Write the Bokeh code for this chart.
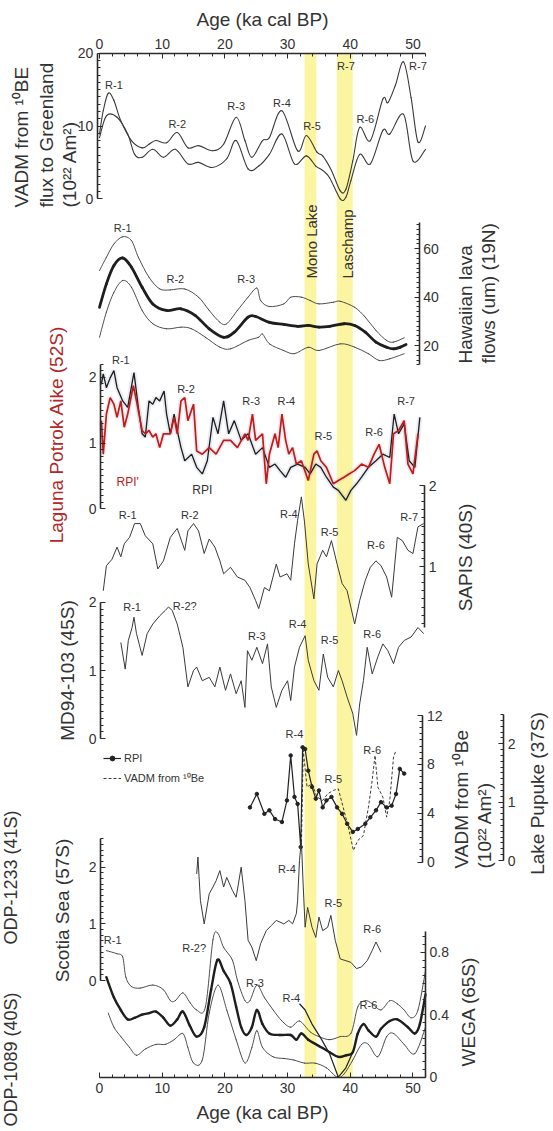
import math
from bokeh.plotting import figure
from bokeh.models import (Range1d, LinearAxis, SingleIntervalTicker, BoxAnnotation,
                          Label, Legend, LegendItem, ColumnDataSource)
from bokeh.core.properties import value
from bokeh.embed import file_html
from bokeh.resources import INLINE

FONT = "Liberation Sans"

# ---------------------------------------------------------------- data
# geomagnetic excursions (ka cal BP)
excursions = ["Mono Lake", "Laschamp"]
exc_start = [32.7, 37.85]
exc_end = [34.6, 40.4]
exc_label_age = [33.8, 39.6]

# VADM from 10Be flux to Greenland, upper / lower envelope (10^22 Am^2)
gl_hi_age = [0, 0.6, 1.4, 2.3, 3.4, 5.1, 6.8, 7.9, 9.0, 10.7, 12.4, 14.1, 15.8, 18.0, 19.8,
             21.8, 23.2, 24.3, 26.0, 27.1, 29.1, 31.6, 33.0, 34.7, 35.6, 37.0, 38.4, 39.3,
             40.4, 41.5, 43.2, 45.2, 46.0, 47.2, 48.5, 49.7, 50.8, 52.0]
gl_hi = [8.9, 12.1, 14.5, 13.5, 10.7, 8.0, 7.0, 7.5, 8.0, 7.7, 9.1, 7.0, 7.3, 6.6, 7.5,
         11.2, 8.0, 5.7, 8.0, 8.4, 12.1, 6.6, 8.7, 6.4, 5.9, 3.9, 1.1, 1.3,
         5.2, 9.8, 8.0, 13.7, 13.2, 15.6, 18.8, 13.9, 7.8, 10.0]
gl_lo_age = [0, 1.1, 2.8, 4.5, 5.6, 6.8, 8.5, 10.2, 12.1, 14.1, 15.8, 18.0, 20.3, 21.8,
             23.7, 25.4, 27.1, 29.1, 31.1, 33.0, 34.5, 35.6, 36.7, 38.4, 39.3, 40.1, 41.5,
             43.2, 45.2, 46.3, 48.5, 50.0, 52.0]
gl_lo = [8.4, 11.4, 11.2, 8.9, 6.1, 5.7, 6.8, 5.7, 6.8, 4.8, 5.0, 4.3, 5.5, 8.0,
         4.1, 4.5, 6.1, 8.9, 4.8, 5.9, 4.5, 3.9, 2.9, 0.0, 0.2, 2.5, 6.1,
         4.8, 9.4, 8.9, 11.6, 5.2, 6.8]
gl_r_age = [2.3, 12.4, 21.8, 29.1, 33.9, 39.3, 42.4, 50.8]
gl_r_val = [15.6, 10.3, 12.7, 13.2, 10.0, 18.3, 11.0, 18.3]
gl_r_txt = ["R-1", "R-2", "R-3", "R-4", "R-5", "R-7", "R-6", "R-7"]

# Hawaiian lava flows (uT): mean and envelope
hw_age = [0, 1.1, 2.3, 3.7, 5.1, 6.8, 8.5, 10.7, 13.0, 15.3, 17.5, 19.8, 21.5, 23.7, 24.9,
          27.1, 29.4, 31.6, 33.3, 35.0, 36.7, 39.0, 40.7, 42.4, 44.1, 45.8, 46.9, 48.0, 48.9]
hw_mid = [35.8, 45.5, 53.1, 56.2, 52.4, 44.1, 37.2, 34.5, 35.2, 32.4, 26.9, 23.4, 25.5, 31.7, 32.0,
          29.6, 28.7, 27.9, 28.3, 27.6, 27.9, 29.0, 28.3, 25.5, 21.4, 19.3, 18.6, 19.3, 20.4]
hw_hi_age = [0, 1.1, 2.3, 3.7, 5.1, 6.2, 7.9, 9.6, 11.3, 13.6, 15.8, 17.5, 19.2, 20.3, 22.0,
             23.7, 25.1, 25.7, 27.1, 29.4, 30.5, 32.2, 33.6, 35.0, 37.3, 38.4, 40.7, 42.4,
             44.1, 45.8, 46.9, 48.6]
hw_hi = [51.0, 56.5, 62.0, 65.0, 63.4, 56.5, 48.2, 43.4, 43.0, 43.4, 40.0, 34.5, 29.6, 29.0, 34.5,
         40.0, 43.8, 38.6, 36.1, 37.2, 40.0, 40.0, 38.6, 37.2, 37.9, 38.3, 35.8, 31.7,
         26.2, 22.1, 21.4, 23.2]
hw_lo_age = [0, 1.1, 2.3, 3.7, 5.1, 6.8, 8.5, 10.7, 13.0, 14.7, 16.9, 19.2, 20.9, 23.7, 25.4,
             26.0, 27.1, 29.4, 31.1, 33.3, 35.0, 38.4, 40.7, 42.9, 44.6, 46.3, 48.6]
hw_lo = [23.4, 33.8, 42.0, 46.9, 44.1, 34.5, 29.0, 26.9, 27.6, 26.9, 23.4, 19.3, 18.6, 22.1, 23.4,
         24.8, 20.7, 17.9, 16.6, 19.3, 17.9, 20.7, 19.3, 16.6, 13.8, 14.5, 16.6]
hw_r_age = [3.7, 12.1, 23.4]
hw_r_val = [68.6, 47.5, 47.5]
hw_r_txt = ["R-1", "R-2", "R-3"]

# Laguna Potrok Aike (52S): RPI' (red) and RPI (black)
lg_red_age = [0.3, 0.6, 1.1, 1.7, 2.3, 2.8, 3.4, 3.95, 4.5, 5.4, 5.9, 6.8, 7.3, 7.9, 8.5, 9.0,
              9.6, 10.2, 11.3, 11.9, 12.4, 13.0, 13.6, 14.1, 15.0, 15.5, 16.4, 17.5, 18.6, 19.8,
              20.9, 22.0, 23.2, 23.7, 24.4, 24.9, 26.0, 26.6, 27.1, 28.0, 28.5, 29.1, 29.7,
              30.2, 30.8, 31.4, 32.2, 33.3, 34.2, 34.7, 35.3, 36.2, 37.3, 38.1, 39.0, 39.8,
              40.7, 41.8, 42.9, 43.8, 44.6, 45.5, 46.3, 46.9, 47.7, 48.6, 49.2, 50.0, 50.8]
lg_red = [1.34, 0.83, 1.44, 1.69, 1.59, 1.39, 1.64, 1.24, 1.44, 1.87, 1.64, 1.19, 1.14, 1.19, 1.09,
          1.14, 0.93, 1.14, 1.14, 1.39, 1.14, 1.64, 1.69, 1.34, 1.59, 0.88, 0.83, 0.93, 0.83, 1.04,
          1.04, 0.93, 1.14, 1.04, 1.44, 1.04, 1.14, 0.38, 0.83, 1.14, 0.93, 1.44, 1.04,
          0.83, 0.93, 0.68, 0.73, 0.43, 0.83, 0.88, 0.73, 0.63, 0.38, 0.43, 0.48, 0.53,
          0.58, 0.68, 0.63, 0.83, 0.98, 0.63, 0.38, 1.14, 1.19, 1.34, 0.68, 0.53, 1.14]
lg_blk_age = [0.3, 0.6, 1.1, 1.7, 2.3, 2.8, 3.7, 4.5, 5.5, 6.2, 6.8, 7.3, 7.9, 8.5, 9.0, 9.6,
              10.3, 10.7, 11.3, 11.9, 12.4, 13.0, 13.6, 14.7, 15.5, 16.4, 17.2, 18.1, 18.9,
              19.8, 20.6, 21.5, 22.6, 23.7, 24.9, 26.0, 27.1, 28.0, 28.8, 29.7, 30.5, 31.6,
              32.8, 33.6, 34.5, 35.3, 36.2, 37.3, 38.1, 39.3, 40.1, 41.0, 41.8, 42.9, 44.1,
              45.2, 46.3, 47.0, 47.7, 48.6, 49.4, 50.3, 51.1]
lg_blk = [1.89, 2.05, 1.84, 1.99, 2.10, 1.84, 1.64, 1.54, 2.07, 1.54, 1.14, 1.09, 1.64, 1.59, 1.69,
          1.64, 1.79, 1.44, 1.14, 1.44, 1.19, 0.93, 0.73, 0.83, 0.63, 0.53, 0.73, 1.39, 1.14,
          1.64, 1.14, 1.34, 1.04, 1.14, 0.83, 0.93, 0.63, 0.68, 0.58, 0.48, 0.63, 0.68,
          0.63, 0.53, 0.68, 0.63, 0.48, 0.33, 0.28, 0.13, 0.28, 0.38, 0.48, 0.63, 0.73,
          0.83, 0.78, 1.44, 1.14, 1.29, 0.73, 0.63, 1.39]
lg_r_age = [3.4, 13.8, 24.2, 29.8, 35.7, 43.8, 48.9]
lg_r_val = [2.26, 1.82, 1.64, 1.64, 1.11, 1.16, 1.64]
lg_r_txt = ["R-1", "R-2", "R-3", "R-4", "R-5", "R-6", "R-7"]
lg_tag_age = [4.5, 16.4]
lg_tag_val = [0.40, 0.28]
lg_tag_txt = ["RPI'", "RPI"]

# SAPIS stack (40S)
sp_age = [0.6, 1.1, 2.0, 2.8, 3.4, 3.95, 4.8, 5.6, 6.5, 7.3, 8.5, 9.3, 10.2, 11.3, 12.4, 13.6,
          14.1, 15.0, 15.8, 16.7, 17.5, 18.4, 19.2, 19.8, 20.9, 22.0, 23.2, 24.0, 24.9, 25.4,
          26.3, 27.1, 28.2, 28.8, 29.9, 30.5, 31.1, 31.6, 32.2, 32.7, 33.3, 34.2, 34.7, 35.6,
          36.2, 37.0, 37.9, 38.7, 39.5, 40.7, 41.5, 42.4, 43.2, 44.1, 44.9, 45.8, 46.6, 47.5,
          48.3, 49.2, 50.0, 50.8, 51.7]
sp_val = [0.70, 1.01, 1.09, 1.24, 1.12, 1.28, 1.36, 1.53, 1.53, 1.38, 1.28, 0.97, 1.07, 1.36, 1.47,
          1.20, 1.44, 1.53, 1.44, 1.16, 1.34, 1.24, 1.07, 0.91, 0.99, 0.87, 0.83, 0.74, 0.58, 0.48,
          0.74, 0.70, 1.03, 0.87, 0.91, 0.83, 1.28, 1.57, 1.86, 1.55, 1.03, 0.60, 1.03, 1.20,
          1.12, 1.32, 1.03, 0.79, 0.70, 0.29, 0.58, 0.83, 0.99, 1.07, 1.01, 0.87, 0.62, 1.36,
          1.32, 1.20, 1.16, 1.49, 1.53]
sp_r_age = [4.5, 14.4, 30.2, 36.7, 44.1, 49.4]
sp_r_val = [1.63, 1.63, 1.65, 1.42, 1.26, 1.61]
sp_r_txt = ["R-1", "R-2", "R-4", "R-5", "R-6", "R-7"]

# MD94-103 (45S)
md_age = [3.4, 4.1, 4.6, 5.2, 5.5, 5.9, 6.8, 7.6, 8.5, 9.6, 10.5, 11.0, 11.6, 12.4, 13.3, 14.1,
          15.0, 15.5, 16.4, 17.5, 18.4, 19.2, 20.1, 20.9, 21.8, 22.6, 23.2, 23.6, 24.3, 25.1,
          26.0, 26.8, 27.4, 28.2, 29.1, 30.0, 30.5, 31.1, 31.9, 32.8, 33.3, 34.2, 35.0, 35.7,
          36.4, 37.3, 38.1, 38.7, 39.5, 40.4, 41.0, 41.5, 42.1, 42.7, 43.5, 44.4, 45.2, 46.0,
          46.9, 47.7, 48.6, 49.7, 50.8, 51.7]
md_val = [1.41, 1.02, 1.44, 1.63, 1.78, 1.54, 1.22, 1.54, 1.68, 1.80, 1.88, 1.93, 1.88, 1.68, 1.34,
          0.76, 1.00, 1.05, 0.85, 0.90, 0.76, 1.05, 0.71, 0.95, 0.66, 0.85, 0.46, 1.29, 1.15, 1.34,
          1.10, 1.39, 0.76, 0.46, 0.71, 0.85, 0.56, 1.05, 1.34, 1.51, 1.15, 0.85, 0.71, 1.24,
          0.90, 0.76, 1.00, 0.85, 0.61, 0.37, 0.05, 0.51, 0.85, 1.34, 0.95, 1.20, 1.39, 1.29,
          1.10, 1.34, 1.44, 1.49, 1.63, 1.54]
md_r_age = [5.2, 13.6, 25.1, 31.6, 36.7, 43.5]
md_r_val = [1.93, 1.95, 1.51, 1.68, 1.44, 1.54]
md_r_txt = ["R-1", "R-2?", "R-3", "R-4", "R-5", "R-6"]

# Lake Pupuke (37S): RPI and VADM from 10Be
pp_age = [24.0, 25.1, 26.3, 27.1, 28.0, 29.1, 29.9, 30.5, 31.1, 31.6, 32.1, 32.4, 32.8, 33.3,
          33.9, 34.5, 35.0, 35.6, 36.2, 37.0, 37.9, 38.7, 39.5, 40.4, 41.2, 42.4, 43.2, 44.1,
          44.9, 45.8, 46.6, 47.3, 47.9, 48.6]
pp_rpi = [0.91, 1.14, 0.80, 0.86, 0.71, 0.66, 1.03, 1.80, 1.09, 0.97, 0.23, 1.94, 1.91, 1.54,
          1.26, 1.06, 1.20, 0.91, 1.03, 1.09, 0.91, 0.80, 0.63, 0.49, 0.54, 0.63, 0.74, 0.86,
          1.00, 0.91, 0.94, 1.14, 1.57, 1.49]
be_age = [32.2, 32.5, 33.1, 33.9, 34.7, 35.6, 36.4, 37.3, 38.1, 39.0, 39.8, 40.5, 41.2, 42.1,
          42.9, 43.5, 43.95, 44.4, 45.2, 45.8, 46.3, 46.9, 47.3]
be_vadm = [1.23, 9.15, 6.15, 6.42, 5.33, 5.05, 5.60, 5.87, 6.00, 4.23, 2.60, 0.96, 1.78, 2.19,
           4.50, 6.70, 8.74, 6.15, 5.33, 3.69, 5.05, 8.60, 9.15]
pp_r_age = [31.1, 37.3, 43.5]
pp_r_val = [2.17, 1.40, 1.89]
pp_r_txt = ["R-4", "R-5", "R-6"]

# Scotia Sea (57S)
sc_age = [15.5, 15.7, 16.1, 16.7, 17.5, 18.1, 18.6, 19.2, 19.8, 20.3, 21.2, 21.8, 22.6, 23.2,
          23.7, 24.3, 25.0, 25.7, 26.6, 27.4, 28.2, 29.4, 30.2, 30.8, 31.4, 31.6, 31.9, 32.2,
          32.5, 32.8, 33.2, 33.9, 34.5, 35.0, 35.6, 36.4, 36.9, 37.6, 38.4, 39.3, 40.1, 41.0,
          41.8, 42.7, 43.5, 44.1, 44.9]
sc_val = [1.88, 2.18, 1.41, 1.00, 1.53, 1.65, 1.76, 1.94, 1.65, 1.82, 1.59, 1.47, 2.00, 1.41,
          0.71, 0.59, 0.35, 0.65, 0.88, 0.97, 1.06, 1.00, 1.06, 1.00, 1.18, 1.41, 2.12, 2.47,
          1.65, 0.94, 1.29, 0.94, 0.76, 1.12, 0.88, 0.94, 1.15, 0.71, 0.38, 0.35, 0.32, 0.21,
          0.24, 0.35, 0.53, 0.68, 0.50]
sc_r_age = [29.9, 37.3, 43.5]
sc_r_val = [1.97, 1.36, 0.91]
sc_r_txt = ["R-4", "R-5", "R-6"]

# WEGA (65S): mean and envelope
wg_age = [1.1, 2.3, 3.4, 4.5, 5.6, 6.8, 7.9, 9.0, 10.2, 11.3, 12.4, 13.3, 14.4, 15.5, 16.7, 17.8,
          18.8, 19.8, 20.9, 21.8, 22.6, 23.4, 24.3, 25.1, 26.0, 27.1, 28.8, 30.5, 31.4, 32.2,
          33.3, 35.0, 36.7, 38.1, 39.3, 40.4, 41.2, 42.1, 42.9, 44.1, 44.9, 46.3, 47.5, 49.2,
          50.3, 51.1, 52.0]
wg_mid = [0.64, 0.51, 0.43, 0.37, 0.38, 0.40, 0.41, 0.42, 0.38, 0.33, 0.37, 0.42, 0.33, 0.26, 0.32,
          0.56, 0.75, 0.68, 0.60, 0.45, 0.32, 0.27, 0.32, 0.43, 0.34, 0.28, 0.27, 0.27, 0.24, 0.28,
          0.24, 0.20, 0.16, 0.13, 0.14, 0.16, 0.28, 0.34, 0.30, 0.26, 0.31, 0.36, 0.37, 0.32,
          0.28, 0.34, 0.53]
wg_hi_age = [1.1, 2.8, 3.7, 4.2, 5.1, 6.5, 8.5, 10.2, 11.3, 12.1, 13.3, 14.4, 15.5, 16.9, 18.1,
             18.9, 19.8, 21.2, 22.0, 23.2, 24.0, 25.1, 26.3, 27.7, 29.1, 30.5, 31.9, 33.6, 35.0,
             36.7, 38.4, 40.1, 41.2, 42.4, 43.5, 44.9, 46.3, 47.5, 48.6, 49.7, 50.8, 52.0]
wg_hi = [0.81, 0.79, 0.77, 0.64, 0.58, 0.57, 0.59, 0.56, 0.49, 0.49, 0.54, 0.48, 0.43, 0.45, 0.88,
         0.92, 0.83, 0.75, 0.62, 0.49, 0.49, 0.59, 0.51, 0.43, 0.36, 0.32, 0.36, 0.29, 0.26,
         0.24, 0.26, 0.28, 0.45, 0.49, 0.47, 0.43, 0.49, 0.47, 0.43, 0.38, 0.43, 0.68]
wg_lo_age = [1.4, 2.3, 3.4, 4.8, 5.9, 7.3, 9.0, 10.5, 11.9, 13.3, 14.1, 15.0, 16.4, 17.5, 18.9,
             20.3, 21.8, 23.2, 24.3, 25.1, 26.0, 27.7, 29.4, 31.0, 32.7, 34.4, 36.2, 37.9, 39.0,
             40.4, 41.8, 42.9, 44.4, 45.8, 46.9, 48.6, 50.3, 52.0]
wg_lo = [0.41, 0.32, 0.26, 0.19, 0.14, 0.18, 0.21, 0.21, 0.24, 0.28, 0.19, 0.09, 0.11, 0.41, 0.59,
         0.43, 0.24, 0.09, 0.19, 0.30, 0.19, 0.13, 0.12, 0.11, 0.09, 0.09, 0.06, 0.00, 0.02,
         0.11, 0.21, 0.21, 0.13, 0.26, 0.28, 0.21, 0.15, 0.32]
# ODP-1089 (40S) segment across the excursions
od_age = [31.9, 32.8, 33.9, 35.3, 36.7, 38.1, 39.3, 40.4]
od_val = [0.47, 0.43, 0.34, 0.25, 0.15, 0.00, 0.06, 0.16]
wg_r_age = [2.1, 15.1, 24.8, 30.6, 42.9]
wg_r_val = [0.88, 0.83, 0.60, 0.51, 0.46]
wg_r_txt = ["R-1", "R-2?", "R-3", "R-4", "R-6"]

# ---------------------------------------------------------------- layout
W, H = 553, 1131
FL, FR, FT, FB = 99, 425, 53, 1077          # age-axis box on the page (px)
AGE_LO, AGE_HI = 0, 52
KA_PX = (FR - FL) / (AGE_HI - AGE_LO)       # page px per ka

# each record has its own vertical scale, pinned by two (value, page-y) anchors
anchors = {
    "greenland": (0, 198.3, 20, 52.7),
    "hawaii": (20, 345.0, 60, 248.3),
    "laguna": (0, 508.3, 2, 376.7),
    "sapis": (1, 566.0, 2, 485.0),
    "md94": (0, 738.3, 2, 601.7),
    "vadm": (0, 861.7, 12, 715.0),
    "pupuke": (0, 860.0, 2, 743.3),
    "scotia": (0, 980.0, 2, 866.7),
    "wega": (0, 1076.7, 0.8, 951.7),
}


def stacked_range(v0, y0, v1, y1):
    # the drawing area spans the whole page, y measured downward from the top
    s = (y0 - y1) / (v1 - v0)
    return Range1d(start=v0 - (H - y0) / s, end=v0 + y0 / s)


p = figure(width=W, height=H,
           x_range=Range1d(AGE_LO - FL / KA_PX, AGE_LO + (W - FL) / KA_PX),
           y_range=Range1d(H, 0),
           x_axis_type=None, y_axis_type=None, output_backend="svg", toolbar_location=None,
           min_border_left=0, min_border_right=0, min_border_top=0, min_border_bottom=0,
           background_fill_color="white", border_fill_color="white")
p.outline_line_color = None
p.extra_x_ranges = {"page": Range1d(0, W)}
p.extra_y_ranges = {k: stacked_range(*a) for k, a in anchors.items()}

INK = "#2b2b2b"


def style_axis(ax):
    ax.axis_line_width = 1.6
    ax.axis_line_color = INK
    ax.major_tick_line_color = INK
    ax.minor_tick_line_color = INK
    ax.major_tick_in = 5
    ax.major_tick_out = 0
    ax.minor_tick_in = 3
    ax.minor_tick_out = 0
    ax.major_label_text_font = FONT
    ax.major_label_text_font_size = "14px"
    ax.major_label_text_color = "#333333"
    ax.major_label_standoff = 4
    ax.axis_label_text_font = FONT
    ax.axis_label_text_font_size = "19px"
    ax.axis_label_text_font_style = "normal"
    ax.axis_label_text_color = "#333333"
    ax.axis_label_standoff = 6


# shared age axes, top and bottom
for side, loc in (("above", FT), ("below", FB)):
    ax = LinearAxis(ticker=SingleIntervalTicker(interval=10, num_minor_ticks=5),
                    bounds=(AGE_LO, AGE_HI), axis_label="Age (ka cal BP)", fixed_location=loc)
    style_axis(ax)
    ax.major_label_standoff = 5
    p.add_layout(ax, side)

# per-record value axes: (range, side, x location in ka, tick interval, minor, bounds)
value_axes = [
    ("greenland", "left", -0.35, 10, 10, (0, 20)),
    ("hawaii", "right", 51.0, 20, 10, (12, 71)),
    ("laguna", "left", 0.15, 1, 10, (0, 2.2)),
    ("sapis", "right", 51.9, 1, 10, (0.25, 2)),
    ("md94", "left", 0.15, 1, 10, (0, 2)),
    ("vadm", "right", 51.6, 4, 8, (0, 12)),
    ("pupuke", "right", 64.5, 1, 10, (0, 2.5)),
    ("scotia", "left", 0.15, 1, 10, (0, 2.5)),
    ("wega", "right", 52.0, 0.4, 8, (0, 0.93)),
]
for name, side, loc, step, minor, bnds in value_axes:
    ax = LinearAxis(y_range_name=name, fixed_location=loc, bounds=bnds,
                    ticker=SingleIntervalTicker(interval=step, num_minor_ticks=minor))
    style_axis(ax)
    if name == "wega":
        ax.major_label_overrides = {0: "0"}
    p.add_layout(ax, side)

# excursion windows
for s, e in zip(exc_start, exc_end):
    p.add_layout(BoxAnnotation(left=s, right=e, top=FT, bottom=FB, fill_color="#fbf5a2",
                               fill_alpha=1.0, line_color=None, level="underlay"))
p.text(x=exc_label_age, y=[278, 278], text=excursions, angle=math.pi / 2,
       text_align="left", text_baseline="middle", text_font=value(FONT),
       text_font_size="15px", text_color="#333333")

THIN = "#3a3a3a"


def smooth_line(xs, ys, rng, **kw):
    """Draw a record as a smooth Catmull-Rom curve through its points (cubic Beziers)."""
    n = len(xs)
    seg = dict(x0=[], y0=[], x1=[], y1=[], cx0=[], cy0=[], cx1=[], cy1=[])
    for i in range(n - 1):
        a, b = max(i - 1, 0), min(i + 2, n - 1)
        seg["x0"].append(xs[i])
        seg["y0"].append(ys[i])
        seg["x1"].append(xs[i + 1])
        seg["y1"].append(ys[i + 1])
        seg["cx0"].append(xs[i] + (xs[i + 1] - xs[a]) / 6)
        seg["cy0"].append(ys[i] + (ys[i + 1] - ys[a]) / 6)
        seg["cx1"].append(xs[i + 1] - (xs[b] - xs[i]) / 6)
        seg["cy1"].append(ys[i + 1] - (ys[b] - ys[i]) / 6)
    return p.bezier(x0="x0", y0="y0", x1="x1", y1="y1", cx0="cx0", cy0="cy0",
                    cx1="cx1", cy1="cy1", source=ColumnDataSource(seg),
                    y_range_name=rng, line_cap="round", **kw)


# Greenland
smooth_line(gl_hi_age, gl_hi, "greenland", line_color=THIN, line_width=1.1)
smooth_line(gl_lo_age, gl_lo, "greenland", line_color=THIN, line_width=1.1)

# Hawaii
smooth_line(hw_hi_age, hw_hi, "hawaii", line_color=THIN, line_width=0.9)
smooth_line(hw_lo_age, hw_lo, "hawaii", line_color=THIN, line_width=0.9)
smooth_line(hw_age, hw_mid, "hawaii", line_color="#1e1e1e", line_width=2.8)

# Laguna Potrok Aike with soft uncertainty halo
p.line(lg_blk_age, lg_blk, y_range_name="laguna", line_color="#aab4c8", line_width=5, line_alpha=0.25)
p.line(lg_red_age, lg_red, y_range_name="laguna", line_color="#aab4c8", line_width=5, line_alpha=0.25)
p.line(lg_blk_age, lg_blk, y_range_name="laguna", line_color="#1c1c1c", line_width=1.3)
p.line(lg_red_age, lg_red, y_range_name="laguna", line_color="#c41a1a", line_width=1.7)

# SAPIS, MD94-103
p.line(sp_age, sp_val, y_range_name="sapis", line_color=THIN, line_width=1.0)
p.line(md_age, md_val, y_range_name="md94", line_color=THIN, line_width=1.0)

# Lake Pupuke
be_line = p.line(be_age, be_vadm, y_range_name="vadm", line_color=THIN, line_width=1.0,
                 line_dash="3 2")
rpi_line = p.line(pp_age, pp_rpi, y_range_name="pupuke", line_color="#222222", line_width=1.2)
rpi_dots = p.scatter(pp_age, pp_rpi, y_range_name="pupuke", size=3.5, color="#222222")

# Scotia Sea
p.line(sc_age, sc_val, y_range_name="scotia", line_color=THIN, line_width=1.0)

# WEGA and ODP-1089
smooth_line(wg_hi_age, wg_hi, "wega", line_color=THIN, line_width=0.9)
smooth_line(wg_lo_age, wg_lo, "wega", line_color=THIN, line_width=0.9)
smooth_line(wg_age, wg_mid, "wega", line_color="#1e1e1e", line_width=2.4)
p.line(od_age, od_val, y_range_name="wega", line_color="#222222", line_width=1.2)

# R-labels for each record
rlabels = [
    ("greenland", gl_r_age, gl_r_val, gl_r_txt),
    ("hawaii", hw_r_age, hw_r_val, hw_r_txt),
    ("laguna", lg_r_age, lg_r_val, lg_r_txt),
    ("sapis", sp_r_age, sp_r_val, sp_r_txt),
    ("md94", md_r_age, md_r_val, md_r_txt),
    ("pupuke", pp_r_age, pp_r_val, pp_r_txt),
    ("scotia", sc_r_age, sc_r_val, sc_r_txt),
    ("wega", wg_r_age, wg_r_val, wg_r_txt),
]
for name, xs, ys, ts in rlabels:
    p.text(x=xs, y=ys, text=ts, y_range_name=name, text_align="center",
           text_baseline="middle", text_font=value(FONT), text_font_size="11px",
           text_color="#333333")
p.text(x=lg_tag_age, y=lg_tag_val, text=lg_tag_txt, y_range_name="laguna",
       text_align="center", text_baseline="middle", text_font=value(FONT),
       text_font_size="12px", text_color=["#c41a1a", "#333333"])

legend = Legend(items=[LegendItem(label="RPI", renderers=[rpi_line, rpi_dots]),
                       LegendItem(label="VADM from \u00b9\u2070Be", renderers=[be_line])],
                location=(103, H - 785), background_fill_alpha=0, border_line_alpha=0,
                label_text_font=FONT, label_text_font_size="11px",
                label_text_color="#333333", glyph_width=18, glyph_height=12,
                label_height=12, spacing=6, padding=0, label_standoff=3)
p.add_layout(legend)

# record titles (page-pixel positions); rotated to read bottom-to-top
titles = [
    # text, x, y, align, color, size
    ("VADM from \u00b9\u2070BE", 21, 207, "left", "#333333", "19px"),
    ("flux to Greenland", 46, 207, "left", "#333333", "19px"),
    ("(10\u00b2\u00b2 Am\u00b2)", 69, 207, "left", "#333333", "19px"),
    ("Laguna Potrok Aike (52S)", 56, 434, "center", "#b3272a", "19px"),
    ("MD94-103 (45S)", 67, 670, "center", "#333333", "19px"),
    ("Scotia Sea (57S)", 62, 910, "center", "#333333", "19px"),
    ("ODP-1233 (41S)", 10, 810, "right", "#333333", "18px"),
    ("ODP-1089 (40S)", 10, 992, "right", "#333333", "18px"),
    ("Hawaiian lava", 465, 363, "left", "#333333", "19px"),
    ("flows (um) (19N)", 488, 363, "left", "#333333", "19px"),
    ("SAPIS (40S)", 465, 557, "center", "#333333", "19px"),
    ("VADM from \u00b9\u2070Be", 461, 868, "left", "#333333", "19px"),
    ("(10\u00b2\u00b2 Am\u00b2)", 484, 868, "left", "#333333", "19px"),
    ("Lake Pupuke (37S)", 537, 793, "center", "#333333", "19px"),
    ("WEGA (65S)", 468, 1011, "center", "#333333", "19px"),
]
for txt, x, y, align, col, size in titles:
    p.add_layout(Label(x=x, y=y, x_range_name="page", text=txt, angle=math.pi / 2,
                       text_align=align, text_baseline="middle", text_font=FONT,
                       text_font_size=size, text_color=col))

open("out.html", "w").write(file_html(p, INLINE))
